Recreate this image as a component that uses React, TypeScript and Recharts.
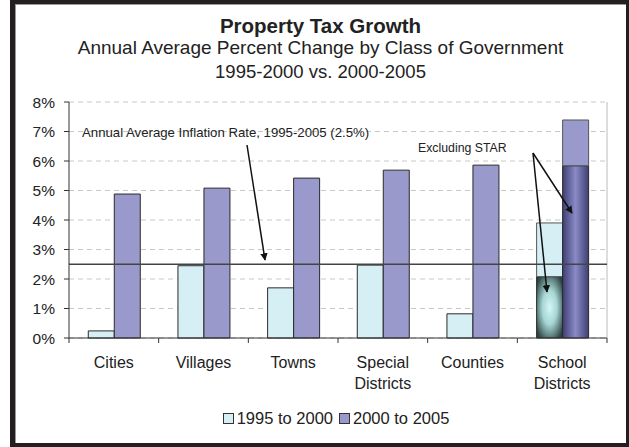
import React from 'react';
import {
  BarChart,
  Bar,
  XAxis,
  YAxis,
  CartesianGrid,
  Legend,
  ReferenceLine,
  Cell
} from 'recharts';

const categories = ['Cities', 'Villages', 'Towns', 'Special Districts', 'Counties', 'School Districts'];
const growth1995to2000 = [0.24, 2.45, 1.7, 2.47, 0.82, 3.9];
const growth2000to2005 = [4.88, 5.08, 5.42, 5.69, 5.86, 7.39];
// "Excluding STAR" portion, only for school districts
const exclStar1995to2000 = [null, null, null, null, null, 2.08];
const exclStar2000to2005 = [null, null, null, null, null, 5.84];
const yTicks = [0, 1, 2, 3, 4, 5, 6, 7, 8];
const inflationRate = 2.5;

const FONT = '"Liberation Sans", Arial, Helvetica, sans-serif';
const LIGHT = '#D6EFF5';
const PURPLE = '#9999CC';
const EDGE = '#2a2a2a';

const W = 611;
const H = 439;
const M = { top: 98, right: 19, left: 0, bottom: 5 };
const Y_W = 54;
const PLOT_W = W - M.right - Y_W;
const PLOT_BOTTOM = 334;

const data = categories.map((name, i) => {
  const e = exclStar1995to2000[i];
  const l = exclStar2000to2005[i];
  return {
    name,
    earlyBase: e ?? growth1995to2000[i],
    earlyTop: e != null ? growth1995to2000[i] - e : 0,
    lateBase: l ?? growth2000to2005[i],
    lateTop: l != null ? growth2000to2005[i] - l : 0,
    star: e != null
  };
});

const CatTick = (props: any) => {
  const { x, payload, index } = props;
  const half = PLOT_W / 12;
  const lines = String(payload.value).split(' ');
  return (
    <g>
      {index === 0 && (
        <line x1={x - half} y1={PLOT_BOTTOM} x2={x - half} y2={PLOT_BOTTOM + 5} stroke="#333" />
      )}
      <line x1={x + half} y1={PLOT_BOTTOM} x2={x + half} y2={PLOT_BOTTOM + 5} stroke="#333" />
      {lines.map((t, i) => (
        <text
          key={i}
          x={x}
          y={PLOT_BOTTOM + 30 + i * 21}
          textAnchor="middle"
          fontSize={16}
          fontFamily={FONT}
          fill="#222"
        >
          {t}
        </text>
      ))}
    </g>
  );
};

const LegendBox = () => (
  <div
    style={{
      height: 40,
      display: 'flex',
      alignItems: 'center',
      justifyContent: 'center',
      paddingLeft: 37,
      fontFamily: FONT,
      fontSize: 16.5,
      color: '#222'
    }}
  >
    {[
      { label: '1995 to 2000', color: LIGHT },
      { label: '2000 to 2005', color: PURPLE }
    ].map((it) => (
      <span key={it.label} style={{ display: 'flex', alignItems: 'center', marginRight: 6 }}>
        <span
          style={{
            width: 9,
            height: 9,
            background: it.color,
            border: '1px solid #333',
            marginRight: 3
          }}
        />
        {it.label}
      </span>
    ))}
  </div>
);

export default function App() {
  return (
    <div
      style={{
        position: 'absolute',
        left: 10,
        top: -1,
        width: W,
        height: H,
        border: '5px solid #231f20',
        boxShadow: 'inset 1px 1px 0 #999',
        background: '#fff',
        fontFamily: FONT
      }}
    >
      <div style={{ position: 'absolute', left: 0, width: W, top: 10, textAlign: 'center', color: '#222' }}>
        <div style={{ fontSize: 20.5, fontWeight: 'bold', lineHeight: '23px' }}>Property Tax Growth</div>
        <div style={{ fontSize: 19, lineHeight: '22px' }}>Annual Average Percent Change by Class of Government</div>
        <div style={{ fontSize: 18.5, lineHeight: '25px' }}>1995-2000 vs. 2000-2005</div>
      </div>

      <div style={{ position: 'absolute', left: 0, top: 0 }}>
        <BarChart width={W} height={H} data={data} margin={M} barCategoryGap="21.5%" barGap={0}>
          <defs>
            <radialGradient id="tealGrad" cx="50%" cy="50%" r="62%">
              <stop offset="0%" stopColor="#D4F6F6" />
              <stop offset="45%" stopColor="#A6D6D5" />
              <stop offset="100%" stopColor="#2C4341" />
            </radialGradient>
            <linearGradient id="purpGrad" x1="0" y1="0" x2="1" y2="0">
              <stop offset="0%" stopColor="#3F3F75" />
              <stop offset="50%" stopColor="#8A8AC6" />
              <stop offset="100%" stopColor="#3F3F75" />
            </linearGradient>
          </defs>
          <CartesianGrid vertical={false} stroke="#c8c8c8" strokeDasharray="5 4" />
          <CartesianGrid horizontal={false} verticalPoints={[Y_W + PLOT_W]} stroke="#bbbbbb" />
          <XAxis
            dataKey="name"
            interval={0}
            height={60}
            tickLine={false}
            axisLine={{ stroke: '#333' }}
            tick={<CatTick />}
          />
          <YAxis
            width={Y_W}
            domain={[0, 8]}
            ticks={yTicks}
            tickSize={5}
            tickMargin={9}
            tickFormatter={(v) => `${v}%`}
            axisLine={{ stroke: '#333' }}
            tickLine={{ stroke: '#333' }}
            tick={{ fontSize: 15.5, fontFamily: FONT, fill: '#222' }}
          />
          <Legend verticalAlign="bottom" content={<LegendBox />} wrapperStyle={{ left: 0, width: W }} />
          <Bar dataKey="earlyBase" stackId="e" stroke={EDGE} strokeWidth={1} isAnimationActive={false}>
            {data.map((d, i) => (
              <Cell key={i} fill={d.star ? 'url(#tealGrad)' : LIGHT} />
            ))}
          </Bar>
          <Bar dataKey="earlyTop" stackId="e" fill={LIGHT} stroke="#555" isAnimationActive={false} />
          <Bar dataKey="lateBase" stackId="l" stroke={EDGE} strokeWidth={1} isAnimationActive={false}>
            {data.map((d, i) => (
              <Cell key={i} fill={d.star ? 'url(#purpGrad)' : PURPLE} />
            ))}
          </Bar>
          <Bar dataKey="lateTop" stackId="l" fill={PURPLE} stroke="#555" isAnimationActive={false} />
          <ReferenceLine y={inflationRate} stroke="#444" strokeWidth={1.5} />
        </BarChart>
      </div>

      <svg
        width={W}
        height={H}
        style={{ position: 'absolute', left: 0, top: 0, pointerEvents: 'none' }}
      >
        <defs>
          <marker id="arrow" viewBox="0 0 10 10" refX="9" refY="5" markerWidth="5" markerHeight="5" orient="auto">
            <path d="M0,0 L10,5 L0,10 z" fill="#111" />
          </marker>
        </defs>
        <text x={67} y={133} fontSize={13.2} fontFamily={FONT} fill="#222">
          Annual Average Inflation Rate, 1995-2005 (2.5%)
        </text>
        <line x1={232} y1={141} x2={250} y2={256} stroke="#111" strokeWidth={1.5} markerEnd="url(#arrow)" />
        <text x={403} y={148} fontSize={12.3} fontFamily={FONT} fill="#222">
          Excluding STAR
        </text>
        <line x1={518} y1={149} x2={557} y2={209} stroke="#111" strokeWidth={1.5} markerEnd="url(#arrow)" />
        <line x1={518} y1={149} x2={532} y2={288} stroke="#111" strokeWidth={1.5} markerEnd="url(#arrow)" />
      </svg>
    </div>
  );
}
